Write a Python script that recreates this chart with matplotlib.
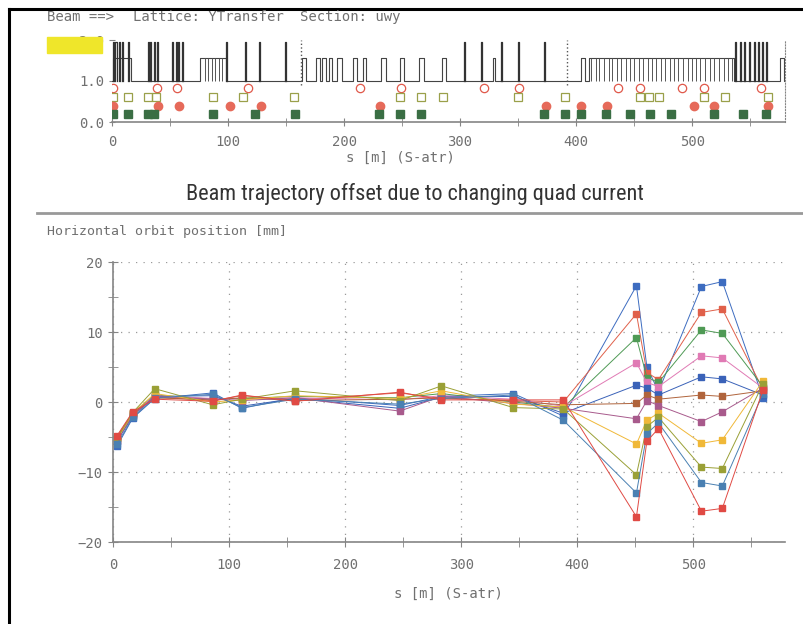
import matplotlib
matplotlib.use("Agg")
import matplotlib.pyplot as plt
from matplotlib.ticker import MultipleLocator, FixedLocator

# ---- lattice (top panel) ----
tall_bends = [0.5, 3, 6, 9, 14, 31, 33, 36, 39, 52, 55, 57, 60, 98, 115, 127, 149,
              303, 318, 335, 350, 372, 537, 541, 545, 549, 553, 557, 560, 564]
quad_humps = [(1, 15), (76, 22), (164, 3), (176, 3), (181, 3), (187, 3), (194, 4),
              (208, 3), (216, 3), (232, 4), (248, 4), (265, 4), (284, 4), (328, 2),
              (404, 4), (411, 125), (576, 3)]
comb_lines = [80, 83, 86, 89, 92, 95,
              413, 417, 420, 424, 428, 431, 435, 439, 443, 446, 450, 454, 458, 462,
              465, 469, 473, 477, 481, 484, 488, 492, 496, 500, 503, 507, 511, 515,
              519, 523, 527, 531, 534]
section_marks = [163, 392]

ring_s = [1, 39, 56, 117, 214, 249, 321, 351, 436, 455, 491, 510, 559]
bpm_s = [1, 14, 31, 38, 87, 113, 157, 248, 266, 285, 350, 390, 455, 463, 471, 510, 528, 565]
red_dot_s = [1, 40, 58, 102, 128, 231, 374, 404, 427, 502, 519, 565]
green_sq_s = [1, 14, 31, 36, 87, 123, 158, 230, 248, 266, 372, 390, 404, 426, 446,
              464, 482, 519, 544, 564]

# ---- orbit (bottom panel) ----
s_bpm = [3.5, 17, 36, 86, 111, 157, 247, 283, 345, 388, 451, 460, 470, 507, 525, 560]
orbit_0 = [-6.3, -2.3, 0.5, 1.3, -0.9, 0.6, -0.5, 0.8, 1.2, -2.0, 16.6, 5.0, 1.5, 16.5, 17.2, 0.6]
orbit_1 = [-5.0, -1.5, 0.7, 0.2, 0.9, 0.3, 1.3, 0.5, 0.2, 0.0, 12.6, 4.2, 3.2, 12.8, 13.3, 1.8]
orbit_2 = [-5.2, -1.6, 1.0, 0.4, 0.5, 0.8, 0.6, 1.2, 0.0, -0.8, 9.2, 3.5, 2.8, 10.3, 9.8, 2.2]
orbit_3 = [-5.4, -1.8, 0.9, 0.5, 0.4, 0.6, 0.3, 0.9, 0.4, -0.6, 5.6, 2.8, 2.2, 6.6, 6.3, 2.0]
orbit_4 = [-5.6, -2.0, 0.8, 0.9, -0.6, 0.5, -0.9, 0.7, 0.8, -1.6, 2.4, 2.0, 1.0, 3.6, 3.3, 1.0]
orbit_5 = [-5.1, -1.7, 0.6, 0.3, 0.6, 0.2, 0.4, 0.6, 0.1, -0.4, -0.2, 1.0, 0.4, 1.0, 0.8, 1.6]
orbit_6 = [-5.5, -1.9, 0.8, 0.4, 0.2, 0.6, -1.3, 0.8, -0.2, -0.9, -2.4, 0.2, -0.5, -2.8, -1.4, 2.0]
orbit_7 = [-5.3, -1.6, 1.2, 0.0, 0.3, 0.9, 0.5, 1.6, -0.3, -0.7, -6.0, -2.6, -1.6, -5.9, -5.4, 3.0]
orbit_8 = [-5.2, -1.5, 1.9, -0.4, 0.4, 1.6, 0.2, 2.3, -0.8, -1.0, -10.4, -3.5, -2.2, -9.3, -9.5, 2.6]
orbit_9 = [-6.0, -2.2, 0.6, 1.1, -0.8, 0.4, -0.3, 0.5, 1.0, -2.6, -13.0, -4.5, -3.0, -11.5, -12.0, 1.2]
orbit_10 = [-4.8, -1.4, 0.4, 0.1, 1.0, 0.1, 1.4, 0.3, 0.3, 0.3, -16.4, -5.6, -3.8, -15.6, -15.2, 1.7]
orbits = [orbit_0, orbit_1, orbit_2, orbit_3, orbit_4, orbit_5, orbit_6, orbit_7,
          orbit_8, orbit_9, orbit_10]
colors = ['#3d6cc0', '#e0604a', '#4f9a55', '#e07ab4', '#3a62b8', '#b0643c',
          '#a85a8c', '#f0b838', '#9aa036', '#4a80b2', '#e04a44']

MONO = 'DejaVu Sans Mono'
TXT = '#707070'
AX = '#858585'

fig = plt.figure(figsize=(8.04, 6.24), dpi=100)
W, H = 804.0, 624.0

# frame lines (left and top)
fig.add_artist(plt.Line2D([9 / W, 9 / W], [0, 1 - 9 / H], color='black', lw=2.2))
fig.add_artist(plt.Line2D([9 / W, 1], [1 - 9 / H, 1 - 9 / H], color='black', lw=2.2))

# header
fig.text(47 / W, 1 - 17 / H, "Beam ==>", family=MONO, fontsize=10, color=TXT, va='center')
fig.text(133 / W, 1 - 17 / H, "Lattice: YTransfer", family=MONO, fontsize=10, color=TXT, va='center')
fig.text(300 / W, 1 - 17 / H, "Section: uwy", family=MONO, fontsize=10, color=TXT, va='center')
fig.add_artist(plt.Rectangle((47 / W, 1 - 53 / H), 55 / W, 16 / H, color='#efe62a', zorder=5))

# ---- top panel ----
ax1 = fig.add_axes([112 / W, 1 - 122 / H, (785 - 112) / W, 82 / H])
xs, ys = [0], [1.0]
for s0, w in sorted(quad_humps):
    xs += [s0, s0, s0 + w, s0 + w]
    ys += [1.0, 1.55, 1.55, 1.0]
xs.append(580)
ys.append(1.0)
ax1.plot(xs, ys, color='#444444', lw=0.8)
ax1.vlines(comb_lines, 1.0, 1.55, color='#555555', lw=0.7)
for s0 in tall_bends:
    ax1.plot([s0, s0, s0 + 0.9, s0 + 0.9], [1.0, 1.95, 1.95, 1.0], color='#333333', lw=0.9)
ax1.vlines(section_marks, 0.9, 2.0, color='#555555', lw=1.0, linestyles=':')

ax1.plot(ring_s, [0.83] * len(ring_s), 'o', ms=6, mfc='none', mec='#e0584a', mew=0.9, ls='none')
ax1.plot(bpm_s, [0.62] * len(bpm_s), 's', ms=5.5, mfc='none', mec='#9aa04a', mew=0.9, ls='none')
ax1.plot(red_dot_s, [0.38] * len(red_dot_s), 'o', ms=6, color='#e66a5a', ls='none')
ax1.plot(green_sq_s, [0.2] * len(green_sq_s), 's', ms=5.5, color='#3a6e44', ls='none')

ax1.set_xlim(0, 580)
ax1.set_ylim(0, 2.0)
ax1.spines['top'].set_visible(False)
ax1.spines['left'].set_visible(False)
ax1.spines['right'].set_linestyle(':')
ax1.spines['right'].set_color(AX)
ax1.spines['bottom'].set_color(AX)
ax1.spines['bottom'].set_linewidth(1.2)
ax1.xaxis.set_major_locator(MultipleLocator(100))
ax1.xaxis.set_minor_locator(MultipleLocator(50))
ax1.yaxis.set_major_locator(FixedLocator([0.0, 1.0, 2.0]))
ax1.set_yticklabels(["0.0", "1.0", "2.0"])
ax1.tick_params(which='both', direction='inout', length=6, color=AX, labelcolor=TXT,
                labelsize=10, pad=6)
ax1.tick_params(axis='y', length=5, pad=3)
for lab in ax1.get_xticklabels() + ax1.get_yticklabels():
    lab.set_family(MONO)
ax1.set_xlabel("s [m] (S-atr)", family=MONO, fontsize=10, color=TXT, labelpad=3)
ax1.xaxis.set_label_coords((400 - 112) / (785 - 112), -0.35)

# title and separator
fig.text(415 / W, 1 - 194 / H, "Beam trajectory offset due to changing quad current",
         family=['Liberation Sans Narrow', 'Roboto Condensed', 'Lato'], fontsize=16,
         color='#333333', ha='center', va='center')
fig.add_artist(plt.Line2D([37 / W, 1], [1 - 213 / H, 1 - 213 / H], color='#999999', lw=2))
fig.text(47 / W, 1 - 232 / H, "Horizontal orbit position [mm]", family=MONO, fontsize=9.5,
         color=TXT, va='center')

# ---- bottom panel ----
ax2 = fig.add_axes([113 / W, 1 - 542 / H, (785 - 113) / W, 280 / H])
for vals, c in zip(orbits, colors):
    ax2.plot(s_bpm, vals, color=c, lw=0.7, marker='s', ms=5, mec=c, mfc=c)
ax2.set_xlim(0, 579)
ax2.set_ylim(-20, 20)
ax2.xaxis.set_major_locator(MultipleLocator(100))
ax2.xaxis.set_minor_locator(MultipleLocator(50))
ax2.yaxis.set_major_locator(MultipleLocator(10))
ax2.yaxis.set_minor_locator(MultipleLocator(5))
ax2.grid(True, which='major', color='#9a9a9a', lw=0.9, linestyle=(0, (1, 5)))
ax2.spines['top'].set_visible(False)
ax2.spines['right'].set_visible(False)
for sp in ('left', 'bottom'):
    ax2.spines[sp].set_color(AX)
    ax2.spines[sp].set_linewidth(1.2)
ax2.tick_params(which='both', direction='inout', length=7, color=AX, labelcolor=TXT,
                labelsize=10)
ax2.tick_params(axis='x', pad=8)
ax2.tick_params(axis='y', pad=4)
for lab in ax2.get_xticklabels() + ax2.get_yticklabels():
    lab.set_family(MONO)
ax2.set_xlabel("s [m] (S-atr)", family=MONO, fontsize=10, color=TXT)
ax2.xaxis.set_label_coords((448 - 113) / (785 - 113), -0.16)

fig.savefig("out.png", dpi=100)
